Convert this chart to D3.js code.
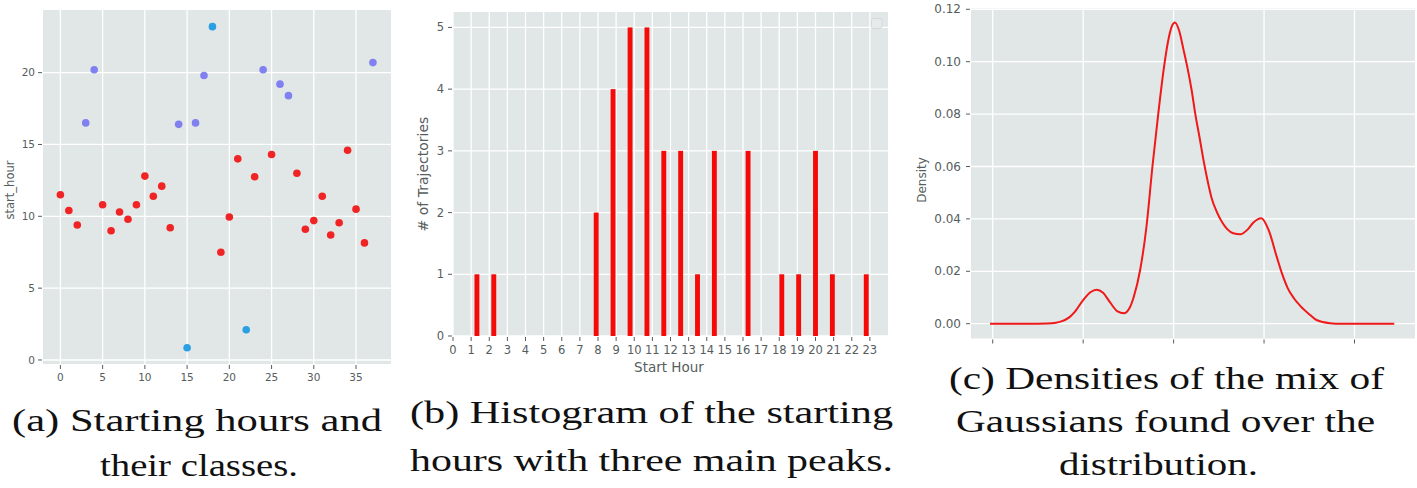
<!DOCTYPE html>
<html><head><meta charset="utf-8">
<script src="https://cdn.jsdelivr.net/npm/d3@7"></script>
<style>body{margin:0;background:#fff} svg{display:block} .cap{font-family:"Liberation Serif","DejaVu Serif",serif;}</style>
</head><body><svg id="chart" width="1417" height="488"></svg>
<script>
// ---------- data ----------
// (a) start hour of each trajectory (index = trajectory number) and its class
const startHours = [11.5,10.4,9.4,16.5,20.2,10.8,9.0,10.3,9.8,10.8,12.8,11.4,12.1,9.2,16.4,0.85,16.5,19.8,23.2,7.5,
                    9.95,14.0,2.1,12.75,20.2,14.3,19.2,18.4,13.0,9.1,9.7,11.4,8.7,9.55,14.6,10.5,8.15,20.7];
const hourClass  = [0,0,0,1,1,0,0,0,0,0,0,0,0,0,1,2,1,1,2,0,
                    0,0,2,0,1,0,1,1,0,0,0,0,0,0,0,0,0,1];
const classColors = ["#f02424","#8080f0","#2b9fe3"];
const aXTicks = [0,5,10,15,20,25,30,35];
const aYTicks = [0,5,10,15,20];

// (b) histogram of start hours
const histCenters = [1.32,2.25,7.9,8.83,9.77,10.7,11.63,12.56,13.49,14.42,16.28,18.14,19.07,20.0,20.93,22.8];
const histCounts  = [1,1,2,4,5,5,3,3,1,3,3,1,1,3,1,1];
const histBarWidth = 0.27;
const bXTicks = [0,1,2,3,4,5,6,7,8,9,10,11,12,13,14,15,16,17,18,19,20,21,22,23];
const bYTicks = [0,1,2,3,4,5];

// (c) density curve
const densX = [-10.3,-6,-4,-3,-2.5,-1.5,-1.0,0.0,0.8,1.5,2.2,3.0,3.8,4.5,5.1,5.6,6.3,7.0,7.66,8.3,8.9,9.4,9.8,10.15,10.6,11.1,11.6,
               12.0,12.4,12.9,13.3,13.7,14.2,14.8,15.4,15.9,16.6,17.35,18.2,18.8,19.7,20.5,21.4,22.0,22.6,23.3,24.0,25.1,25.8,27.3,28.5,34.4];
const densY = [0,0,0.0001,0.0004,0.0008,0.0025,0.0042,0.009,0.012,0.013,0.0118,0.008,0.0047,0.004,0.0058,0.0103,0.0205,0.037,0.06,0.08,0.097,0.108,0.1135,0.115,0.112,0.1045,0.0965,
               0.089,0.080,0.0705,0.0625,0.0555,0.048,0.0425,0.0385,0.0362,0.0345,0.0341,0.036,0.0385,0.0402,0.0358,0.0256,0.019,0.0137,0.0097,0.0068,0.0033,0.0014,0.0002,0,0];
const cXTicks = [-10,0,10,20,30];
const cYTicks = [0,0.02,0.04,0.06,0.08,0.10,0.12];

const captionA = ["(a) Starting hours and","their classes."];
const captionB = ["(b) Histogram of the starting","hours with three main peaks."];
const captionC = ["(c) Densities of the mix of","Gaussians found over the","distribution."];

// ---------- drawing ----------
const svg = d3.select("#chart");
const BG = "#e1e7e6", TICKC = "#555d5d", FONT = "DejaVu Sans, sans-serif";

function panel(x, y, opt) {
  const g = svg.append("g");
  const [x0,x1] = x.range(), [y1,y0] = y.range();
  g.append("rect").attr("x",x0).attr("y",y0).attr("width",x1-x0).attr("height",y1-y0).attr("fill",BG);
  g.selectAll(".gx").data(opt.xTicks).join("line")
    .attr("x1",d=>x(d)).attr("x2",d=>x(d)).attr("y1",y0).attr("y2",y1)
    .attr("stroke","#fff").attr("stroke-width",1.3);
  g.selectAll(".gy").data(opt.yTicks).join("line")
    .attr("y1",d=>y(d)).attr("y2",d=>y(d)).attr("x1",x0).attr("x2",x1)
    .attr("stroke","#fff").attr("stroke-width",1.3);
  g.selectAll(".ty").data(opt.yTicks).join("line")
    .attr("x1",x0-5).attr("x2",x0-1).attr("y1",d=>y(d)).attr("y2",d=>y(d))
    .attr("stroke",TICKC).attr("stroke-width",1);
  g.selectAll(".tyl").data(opt.yTicks).join("text")
    .attr("x",x0-opt.yLabGap).attr("y",d=>y(d)).attr("dy","0.35em")
    .attr("text-anchor","end").attr("font-family",FONT).attr("font-size",opt.tickSize)
    .attr("fill",TICKC).text(opt.yFmt);
  g.selectAll(".tx").data(opt.xTicks).join("line")
    .attr("x1",d=>x(d)).attr("x2",d=>x(d)).attr("y1",y1+1).attr("y2",y1+5)
    .attr("stroke",TICKC).attr("stroke-width",1);
  if (opt.xFmt) {
    g.selectAll(".txl").data(opt.xTicks).join("text")
      .attr("x",d=>x(d)).attr("y",y1+opt.xLabGap).attr("dy","0.35em")
      .attr("text-anchor","middle").attr("font-family",FONT).attr("font-size",opt.tickSize)
      .attr("fill",TICKC).text(opt.xFmt);
  }
  if (opt.yLabel) {
    g.append("text").attr("transform",`translate(${opt.yLabel[1]},${opt.yLabel[2]}) rotate(-90)`)
      .attr("text-anchor","middle").attr("dy","0.35em").attr("font-family",FONT)
      .attr("font-size",opt.yLabel[3]).attr("fill",TICKC).text(opt.yLabel[0]);
  }
  if (opt.xLabel) {
    g.append("text").attr("x",opt.xLabel[1]).attr("y",opt.xLabel[2]).attr("dy","0.35em")
      .attr("text-anchor","middle").attr("font-family",FONT)
      .attr("font-size",opt.xLabel[3]).attr("fill",TICKC).text(opt.xLabel[0]);
  }
  return g;
}

// Panel (a)
const xa = d3.scaleLinear().domain([-2.06,39.14]).range([43,391]);
const ya = d3.scaleLinear().domain([-0.28,24.36]).range([364,10]);
const ga = panel(xa, ya, {xTicks:aXTicks, yTicks:aYTicks, tickSize:10.5, yLabGap:8, xLabGap:13,
  yFmt:d=>d, xFmt:d=>d, yLabel:["start_hour",10,190,11.5]});
ga.selectAll("circle").data(startHours).join("circle")
  .attr("cx",(d,i)=>xa(i)).attr("cy",d=>ya(d)).attr("r",3.8)
  .attr("fill",(d,i)=>classColors[hourClass[i]]);

// Panel (b)
const xb = d3.scaleLinear().domain([0,24]).range([453,888]);
const yb = d3.scaleLinear().domain([0,5.25]).range([336,12]);
const gb = panel(xb, yb, {xTicks:bXTicks, yTicks:bYTicks, tickSize:11.5, yLabGap:9, xLabGap:14,
  yFmt:d=>d, xFmt:d=>d, yLabel:["# of Trajectories",423,174,14], xLabel:["Start Hour",669,367,13.5]});
gb.selectAll(".bar").data(histCounts).join("rect")
  .attr("x",(d,i)=>xb(histCenters[i]-histBarWidth/2))
  .attr("width",(d,i)=>xb(histCenters[i]+histBarWidth/2)-xb(histCenters[i]-histBarWidth/2))
  .attr("y",d=>yb(d)).attr("height",d=>yb(0)-yb(d)).attr("fill","#f50a0a");
gb.append("rect").attr("x",871.5).attr("y",18.5).attr("width",10.5).attr("height",10)
  .attr("rx",2).attr("fill","#e6eaea").attr("stroke","#d0d6d6").attr("stroke-width",0.8);

// Panel (c)
const xc = d3.scaleLinear().domain([-12.4,36.69]).range([971,1415]);
const yc = d3.scaleLinear().domain([-0.00565,0.1203]).range([338.5,8.5]);
const gc = panel(xc, yc, {xTicks:cXTicks, yTicks:cYTicks, tickSize:12, yLabGap:10, xLabGap:14,
  yFmt:d3.format(".2f"), xFmt:null, yLabel:["Density",922,180,12]});
gc.append("path").datum(densX.map((d,i)=>[d,densY[i]]))
  .attr("d", d3.line().x(d=>xc(d[0])).y(d=>yc(d[1])).curve(d3.curveMonotoneX))
  .attr("fill","none").attr("stroke","#f01818").attr("stroke-width",2);

// captions
function caption(lines, specs) {
  lines.forEach((t,i)=>{
    const s = specs[i];
    svg.append("text").attr("class","cap").attr("x",s[0]).attr("y",s[1])
      .attr("font-size",32).attr("fill","#111")
      .attr("textLength",s[2]).attr("lengthAdjust","spacingAndGlyphs").text(t);
  });
}
caption(captionA, [[12,431,370],[100,476,198]]);
caption(captionB, [[410,423,483],[410,471,483]]);
caption(captionC, [[949,389,435],[956,432,419],[1059,475,199]]);
</script></body></html>
